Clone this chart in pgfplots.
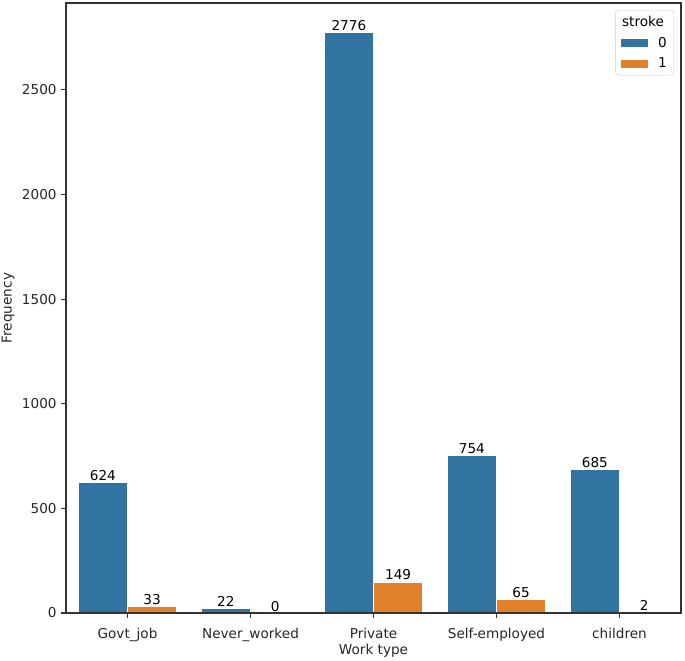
\documentclass[border=0pt]{standalone}
\usepackage{pgfplots}
\pgfplotsset{compat=1.18}
\usepackage{fontspec}
\setmainfont{DejaVu Sans}
\definecolor{sbblue}{HTML}{3274A1}
\definecolor{sborange}{HTML}{E1812C}
\begin{document}
\begin{tikzpicture}
\begin{axis}[
  scale only axis, width=615pt, height=610pt,
  xmin=-0.5, xmax=4.5, ymin=0, ymax=2914.8,
  axis on top,
  xtick={0,1,2,3,4},
  xticklabels={Govt\_job,Never\_worked,Private,Self-employed,children},
  ytick={0,500,1000,1500,2000,2500},
  tick align=outside, tick pos=left, major tick length=4.9pt,
  every tick/.style={black!80, line width=1.1pt},
  axis line style={black!80, line width=1.1pt},
  font=\fontsize{13.6}{16.5}\selectfont,
  /pgf/number format/1000 sep={},
  /pgf/number format/assume math mode=true,
  xticklabel style={anchor=base, yshift=-21pt, text=black!85},
  yticklabel style={anchor=east, xshift=-1pt, text=black!85},
  xlabel={Work type}, ylabel={Frequency},
  every axis x label/.style={at={(axis description cs:0.5,0)}, anchor=base, yshift=-41pt, text=black!85},
  every axis y label/.style={at={(axis description cs:0,0.5)}, xshift=-58pt, rotate=90, anchor=center, text=black!85},
  ybar, bar width=0.4,
  nodes near coords,
  every node near coord/.append style={anchor=south, inner sep=1.5pt, text=black, font=\fontsize{13.6}{16.5}\selectfont},
  legend style={at={(0.9886,0.9885)}, anchor=north east, draw=black!20, rounded corners=3pt,
    fill=white, fill opacity=0.8, text opacity=1, font=\fontsize{13.6}{16.5}\selectfont,
    inner xsep=5pt, inner ysep=4pt, row sep=5pt, column sep=9pt},
  legend cell align=left,
]
\addlegendimage{empty legend}
\addlegendentry{\hspace*{-36pt}stroke}
\addplot[fill=sbblue, draw=white, line width=0.5pt, bar shift=-0.2,
  legend image code/.code={\fill[sbblue, sharp corners, fill opacity=1] (0pt,-3.5pt) rectangle (26pt,3.5pt);}] coordinates {(0,624) (1,22) (2,2776) (3,754) (4,685)};
\addlegendentry{0}
\addplot[fill=sborange, draw=white, line width=0.5pt, bar shift=0.2,
  legend image code/.code={\fill[sborange, sharp corners, fill opacity=1] (0pt,-3.5pt) rectangle (26pt,3.5pt);}] coordinates {(0,33) (1,0) (2,149) (3,65) (4,2)};
\addlegendentry{1}
\end{axis}
\pgfresetboundingbox
\useasboundingbox ([shift={(-66pt,-47pt)}]current axis.south west) rectangle ([shift={(4pt,3pt)}]current axis.north east);
\end{tikzpicture}
\end{document}
